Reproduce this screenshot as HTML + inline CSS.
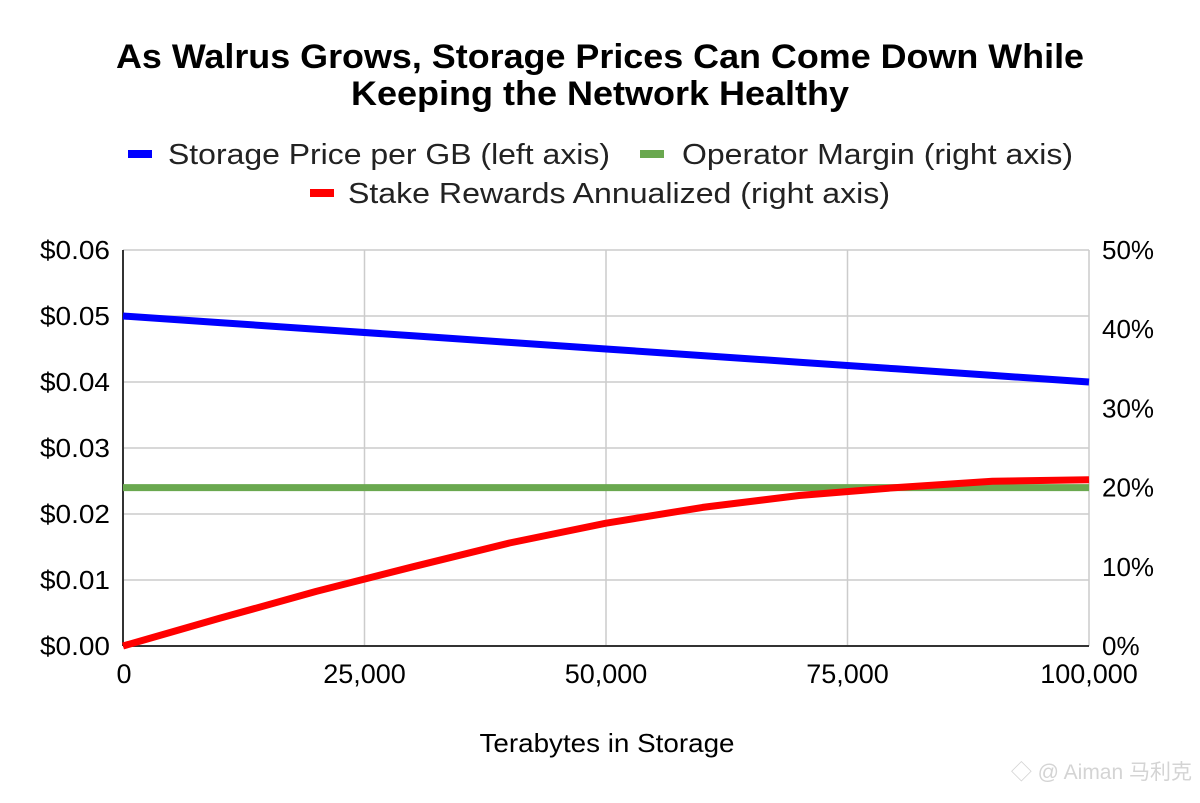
<!DOCTYPE html>
<html><head><meta charset="utf-8"><style>
body{margin:0;background:#fff;width:1200px;height:798px;overflow:hidden;font-family:"Liberation Sans",Arial,sans-serif}
</style></head><body>
<svg id="chart" width="1200" height="798" xmlns="http://www.w3.org/2000/svg" font-family="Liberation Sans, Arial, sans-serif">
<text x="600" y="68" text-anchor="middle" font-size="34" font-weight="bold" textLength="968" lengthAdjust="spacingAndGlyphs">As Walrus Grows, Storage Prices Can Come Down While</text>
<text x="600" y="105" text-anchor="middle" font-size="34" font-weight="bold" textLength="498" lengthAdjust="spacingAndGlyphs">Keeping the Network Healthy</text>
<g font-size="29" fill="#222">
<g><rect x="128" y="150" width="24" height="8" fill="#0000ff"/><text x="168" y="164" textLength="442" lengthAdjust="spacingAndGlyphs">Storage Price per GB (left axis)</text></g>
<g><rect x="640" y="150" width="24" height="8" fill="#6aa84f"/><text x="682" y="164" textLength="391" lengthAdjust="spacingAndGlyphs">Operator Margin (right axis)</text></g>
<g><rect x="310" y="189" width="24" height="8" fill="#ff0000"/><text x="348" y="203" textLength="542" lengthAdjust="spacingAndGlyphs">Stake Rewards Annualized (right axis)</text></g>
</g>
<g id="grid"></g>
<g id="axes"></g>
<g id="series"></g>
<text x="607" y="752" text-anchor="middle" font-size="26" fill="#000" textLength="255" lengthAdjust="spacingAndGlyphs">Terabytes in Storage</text>
<text x="1192" y="779" text-anchor="end" font-size="21" fill="#d4d4d4" font-family="Liberation Sans, Noto Sans CJK SC, sans-serif">◇ @ Aiman 马利克</text>
</svg>
<script>
const xValues=[0,10000,20000,30000,40000,50000,60000,70000,80000,90000,100000];
const priceValues=[0.050,0.049,0.048,0.047,0.046,0.045,0.044,0.043,0.042,0.041,0.040];
const marginValues=[20,20,20,20,20,20,20,20,20,20,20];
const rewardValues=[0,3.5,6.9,10.0,13.0,15.5,17.5,19.0,20.0,20.8,21.0];
const xTicks=[0,25000,50000,75000,100000];
const leftTicks=[0,0.01,0.02,0.03,0.04,0.05,0.06];
const rightTicks=[0,10,20,30,40,50];
const X0=123,X1=1089,Y0=646,Y1=250;
const sx=v=>X0+(v-0)/(100000)*(X1-X0);
const syL=v=>Y0-v/0.06*(Y0-Y1);
const syR=v=>Y0-v/50*(Y0-Y1);
const NS="http://www.w3.org/2000/svg";
function mk(tag,attrs,parent){const e=document.createElementNS(NS,tag);for(const k in attrs)e.setAttribute(k,attrs[k]);parent.appendChild(e);return e;}
const grid=document.getElementById('grid'),axes=document.getElementById('axes'),series=document.getElementById('series');
leftTicks.forEach((t,i)=>{const y=syL(t);
 if(i>0){const l=mk('line',{x1:X0,x2:X1,y1:y,y2:y,stroke:'#cccccc','stroke-width':1.5},grid);
 
 }
 const tx=mk('text',{x:110,y:y+9,'text-anchor':'end','font-size':26,fill:'#000',textLength:70,lengthAdjust:'spacingAndGlyphs'},axes);tx.textContent='$'+t.toFixed(2);
 
 
});
rightTicks.forEach(t=>{const y=syR(t);const tx=mk('text',{x:1102,y:y+9,'font-size':26,fill:'#000'},axes);tx.textContent=t+'%';
 
 
});
xTicks.forEach((t,i)=>{const x=sx(t);
 if(i>0){const l=mk('line',{x1:x,x2:x,y1:Y1,y2:Y0,stroke:'#cccccc','stroke-width':1.5},grid);
 
 }
 const tx=mk('text',{x:i==0?x+1:x,y:683,'text-anchor':'middle','font-size':27,fill:'#000'},axes);tx.textContent=t.toLocaleString('en-US');
 
 
});
const la=mk('line',{x1:X0,x2:X0,y1:Y1,y2:Y0,stroke:'#333','stroke-width':2},axes);


const ba=mk('line',{x1:X0,x2:X1,y1:Y0,y2:Y0,stroke:'#333','stroke-width':2},axes);


function line(vals,sy,color,name){const d=vals.map((v,i)=>(i?'L':'M')+sx(xValues[i]).toFixed(1)+','+sy(v).toFixed(1)).join(' ');
 const p=mk('path',{d:d,fill:'none',stroke:color,'stroke-width':7,'stroke-linejoin':'round'},series);
 
 }
line(marginValues,syR,'#6aa84f','operator-margin-line');
line(priceValues,syL,'#0000ff','storage-price-line');
line(rewardValues,syR,'#ff0000','stake-rewards-line');
</script>
</body></html>
